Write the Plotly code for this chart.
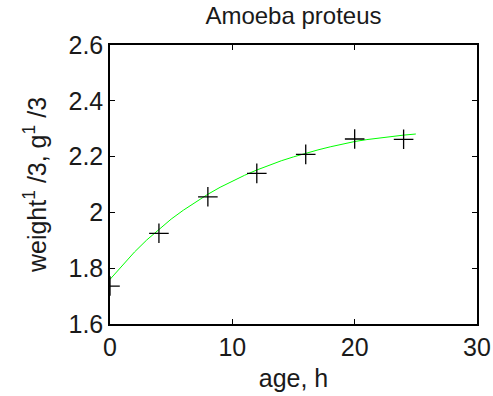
import plotly.graph_objects as go

# measured data (age in hours, weight^(1/3))
age = [0, 4, 8, 12, 16, 20, 24]
weight = [1.736, 1.925, 2.056, 2.140, 2.208, 2.263, 2.262]

# fitted curve
fit_age = [0, 1, 2, 3, 4, 5, 6, 7, 8, 9, 10, 11, 12, 13, 14, 15, 16, 17, 18, 19, 20, 21, 22, 23, 24, 25]
fit_weight = [1.760, 1.811, 1.858, 1.901, 1.940, 1.976, 2.008, 2.038, 2.065, 2.090,
              2.112, 2.133, 2.152, 2.169, 2.185, 2.199, 2.212, 2.224, 2.235, 2.245,
              2.254, 2.261, 2.267, 2.272, 2.277, 2.281]

x_ticks = [0, 10, 20, 30]
y_ticks = [1.6, 1.8, 2.0, 2.2, 2.4, 2.6]
y_tick_text = ["1.6", "1.8", "2", "2.2", "2.4", "2.6"]

FONT = "Liberation Sans, Arial, sans-serif"
TXT = "#1a1a1a"

fig = go.Figure()
fig.add_trace(go.Scatter(x=fit_age, y=fit_weight, mode="lines",
                         line=dict(color="#00ff00", width=1), hoverinfo="skip"))
fig.add_trace(go.Scatter(x=age, y=weight, mode="markers",
                         marker=dict(symbol="cross-thin", size=14,
                                     line=dict(color="black", width=1.3), color="black")))

axis_common = dict(showgrid=False, zeroline=False, showline=True, linecolor="black",
                   linewidth=1.5, mirror="ticks", ticks="inside", ticklen=5,
                   tickcolor="black", tickwidth=1,
                   tickfont=dict(family=FONT, size=25, color=TXT))

fig.update_layout(
    width=493, height=396,
    margin=dict(l=110, r=16, t=45, b=72, autoexpand=False),
    paper_bgcolor="white", plot_bgcolor="white",
    showlegend=False,
    title=dict(text="Amoeba proteus", x=0.5953, xanchor="center",
               y=0.96, yanchor="middle",
               font=dict(family=FONT, size=24, color=TXT)),
    xaxis=dict(range=[0, 30], tickvals=x_ticks, ticktext=[str(v) for v in x_ticks],
               title=dict(text="age, h", font=dict(family=FONT, size=25, color=TXT), standoff=10),
               **axis_common),
    yaxis=dict(range=[1.6, 2.6], tickvals=y_ticks, ticktext=y_tick_text,
               title=dict(text="weight<sup>1</sup> /3, g<sup>1</sup> /3",
                          font=dict(family=FONT, size=25, color=TXT), standoff=15),
               **axis_common),
)

fig.write_html("out.html")
